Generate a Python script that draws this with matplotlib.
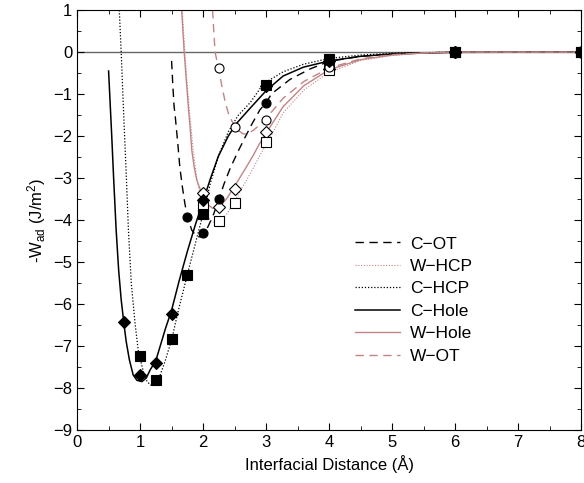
import matplotlib
matplotlib.use('Agg')
import matplotlib.pyplot as plt
from matplotlib.ticker import MultipleLocator

plt.rcParams['font.family'] = ['Liberation Sans', 'DejaVu Sans']
plt.rcParams['mathtext.fontset'] = 'custom'
plt.rcParams['mathtext.rm'] = 'Liberation Sans'
plt.rcParams['mathtext.it'] = 'Liberation Sans'

# computed points (markers)
chole_x = [0.75, 1.0, 1.25, 1.5, 2.0, 3.0, 4.0, 6.0, 8.0]
chole_y = [-6.43, -7.69, -7.41, -6.25, -3.52, -0.80, -0.20, 0.0, 0.0]
chcp_x = [1.0, 1.25, 1.5, 1.75, 2.0, 3.0, 4.0, 6.0, 8.0]
chcp_y = [-7.25, -7.81, -6.83, -5.30, -3.86, -0.78, -0.17, 0.0, 0.0]
cot_x = [1.75, 2.0, 2.25, 3.0, 4.0, 6.0, 8.0]
cot_y = [-3.92, -4.32, -3.51, -1.21, -0.20, 0.0, 0.0]
whole_x = [2.0, 2.25, 2.5, 3.0, 4.0, 6.0, 8.0]
whole_y = [-3.35, -3.70, -3.26, -1.90, -0.40, 0.0, 0.0]
whcp_x = [2.0, 2.25, 2.5, 3.0, 4.0, 6.0, 8.0]
whcp_y = [-3.68, -4.02, -3.59, -2.13, -0.43, 0.0, 0.0]
wot_x = [2.25, 2.5, 3.0, 4.0, 6.0, 8.0]
wot_y = [-0.38, -1.78, -1.62, -0.36, 0.0, 0.0]

# fitted curves
chole_fx = [0.50, 0.55, 0.58, 0.62, 0.66, 0.70, 0.75, 0.78, 0.83, 0.89, 0.95, 1.03, 1.10, 1.16,
            1.25, 1.30, 1.40, 1.50, 1.62, 1.75, 1.88, 2.00, 2.12, 2.24, 2.40, 2.53, 2.72, 3.00,
            3.27, 3.59, 4.00, 4.50, 5.10, 6.00, 8.00]
chole_fy = [-0.45, -2.0, -3.0, -4.24, -5.2, -5.9, -6.55, -6.9, -7.33, -7.69, -7.82, -7.85, -7.76, -7.57,
            -7.35, -7.1, -6.6, -6.15, -5.45, -4.75, -4.1, -3.55, -3.0, -2.49, -2.0, -1.70, -1.38, -0.92,
            -0.57, -0.36, -0.21, -0.10, -0.035, -0.005, 0.0]
chcp_fx = [0.67, 0.70, 0.74, 0.78, 0.815, 0.86, 0.92, 0.97, 1.00, 1.05, 1.10, 1.16, 1.20, 1.26,
           1.32, 1.40, 1.45, 1.50, 1.60, 1.75, 1.85, 1.91, 2.00, 2.12, 2.25, 2.40, 2.55, 2.75,
           2.96, 3.27, 3.59, 4.00, 4.50, 5.10, 6.00, 8.00]
chcp_fy = [1.0, 0.0, -1.5, -2.9, -4.24, -5.5, -6.46, -7.1, -7.3, -7.6, -7.82, -7.93, -7.95, -7.88,
           -7.69, -7.35, -7.1, -6.86, -6.2, -5.3, -4.72, -4.37, -3.86, -3.1, -2.45, -1.9, -1.52, -1.2,
           -0.75, -0.47, -0.29, -0.15, -0.07, -0.02, 0.0, 0.0]
cot_fx = [1.50, 1.52, 1.54, 1.556, 1.60, 1.63, 1.67, 1.71, 1.75, 1.82, 1.90, 1.97, 2.03, 2.09,
          2.17, 2.25, 2.33, 2.43, 2.55, 2.67, 2.78, 2.90, 3.00, 3.09, 3.38, 3.70, 4.00, 4.50,
          5.00, 6.00, 8.00]
cot_fy = [-0.21, -0.8, -1.3, -1.5, -2.2, -2.73, -3.2, -3.6, -3.92, -4.24, -4.40, -4.40, -4.30, -4.12,
          -3.85, -3.51, -3.15, -2.77, -2.38, -2.02, -1.70, -1.38, -1.20, -0.99, -0.65, -0.40, -0.22, -0.10,
          -0.04, 0.0, 0.0]
whole_fx = [1.66, 1.70, 1.74, 1.77, 1.80, 1.82, 1.86, 1.90, 1.95, 2.00, 2.09, 2.15, 2.22, 2.30,
            2.37, 2.50, 2.60, 2.69, 2.80, 2.90, 3.00, 3.27, 3.60, 4.00, 4.50, 5.00, 5.50, 6.00, 8.00]
whole_fy = [1.0, 0.0, -0.8, -1.38, -1.9, -2.33, -2.75, -3.05, -3.25, -3.42, -3.65, -3.72, -3.72, -3.62,
            -3.50, -3.2, -2.95, -2.73, -2.45, -2.17, -1.93, -1.30, -0.80, -0.42, -0.18, -0.07, -0.02, 0.0, 0.0]
whcp_fx = [1.67, 1.71, 1.75, 1.79, 1.84, 1.90, 1.96, 2.03, 2.11, 2.20, 2.28, 2.38, 2.50, 2.60,
           2.69, 2.80, 2.90, 3.00, 3.06, 3.27, 3.60, 4.00, 4.50, 5.00, 5.50, 6.00, 8.00]
whcp_fy = [1.0, 0.0, -0.8, -1.5, -2.3, -3.0, -3.45, -3.8, -4.0, -4.07, -4.02, -3.85, -3.55, -3.28,
           -3.05, -2.75, -2.47, -2.2, -2.05, -1.45, -0.90, -0.48, -0.20, -0.08, -0.025, 0.0, 0.0]
wot_fx = [2.15, 2.19, 2.25, 2.30, 2.35, 2.40, 2.45, 2.50, 2.57, 2.64, 2.70, 2.80, 2.90, 3.00,
          3.27, 3.60, 4.00, 4.50, 5.00, 5.50, 6.00, 8.00]
wot_fy = [1.0, 0.0, -0.42, -0.82, -1.18, -1.45, -1.62, -1.76, -1.88, -1.95, -1.95, -1.86, -1.73, -1.58,
          -1.10, -0.70, -0.38, -0.16, -0.06, -0.02, 0.0, 0.0]

brown = '#c08585'
dash = (0, (6, 4))
dot = (0, (1, 1.5))

plt.figure(figsize=(5.84, 4.83), dpi=100)
plt.subplots_adjust(left=0.132, right=0.995, top=0.979, bottom=0.110)
ax = plt.gca()

ax.axhline(0, color='#666666', lw=1.0, zorder=1)

ax.plot(cot_fx, cot_fy, color='black', ls=dash, lw=1.0, label='C\u2212OT')
ax.plot(whcp_fx, whcp_fy, color=brown, ls=dot, lw=0.8, label='W\u2212HCP')
ax.plot(chcp_fx, chcp_fy, color='black', ls=dot, lw=0.9, label='C\u2212HCP')
ax.plot(chole_fx, chole_fy, color='black', lw=1.1, label='C\u2212Hole')
ax.plot(whole_fx, whole_fy, color=brown, lw=1.0, label='W\u2212Hole')
ax.plot(wot_fx, wot_fy, color=brown, ls=dash, lw=1.0, label='W\u2212OT')

mk = dict(ls='none', mec='black', mew=0.8, zorder=5)
ax.plot(whole_x, whole_y, marker='D', ms=6, mfc='white', **mk)
ax.plot(whcp_x, whcp_y, marker='s', ms=6.5, mfc='white', **mk)
ax.plot(wot_x, wot_y, marker='o', ms=6.5, mfc='white', **mk)
ax.plot(chole_x, chole_y, marker='D', ms=6, mfc='black', **mk)
ax.plot(cot_x, cot_y, marker='o', ms=6.5, mfc='black', **mk)
ax.plot(chcp_x, chcp_y, marker='s', ms=6.5, mfc='black', **mk)

ax.set_xlim(0, 8)
ax.set_ylim(-9, 1)
ax.xaxis.set_major_locator(MultipleLocator(1))
ax.xaxis.set_minor_locator(MultipleLocator(0.5))
ax.yaxis.set_major_locator(MultipleLocator(1))
ax.yaxis.set_minor_locator(MultipleLocator(0.5))
ax.tick_params(which='both', direction='in', top=True, right=True, labelsize=12)
ax.tick_params(which='major', length=5)
ax.tick_params(which='minor', length=3)

ax.set_xlabel('Interfacial Distance (\u00c5)', fontsize=12)
ax.set_ylabel('-W$_{\\mathrm{ad}}$ (J/m$^2$)', fontsize=12)

ax.legend(loc='upper left', bbox_to_anchor=(0.551, 0.461), frameon=False, fontsize=12.5,
          handlelength=2.6, handletextpad=0.6, labelspacing=0.42, borderpad=0, borderaxespad=0)

plt.savefig('out.png', dpi=100)
